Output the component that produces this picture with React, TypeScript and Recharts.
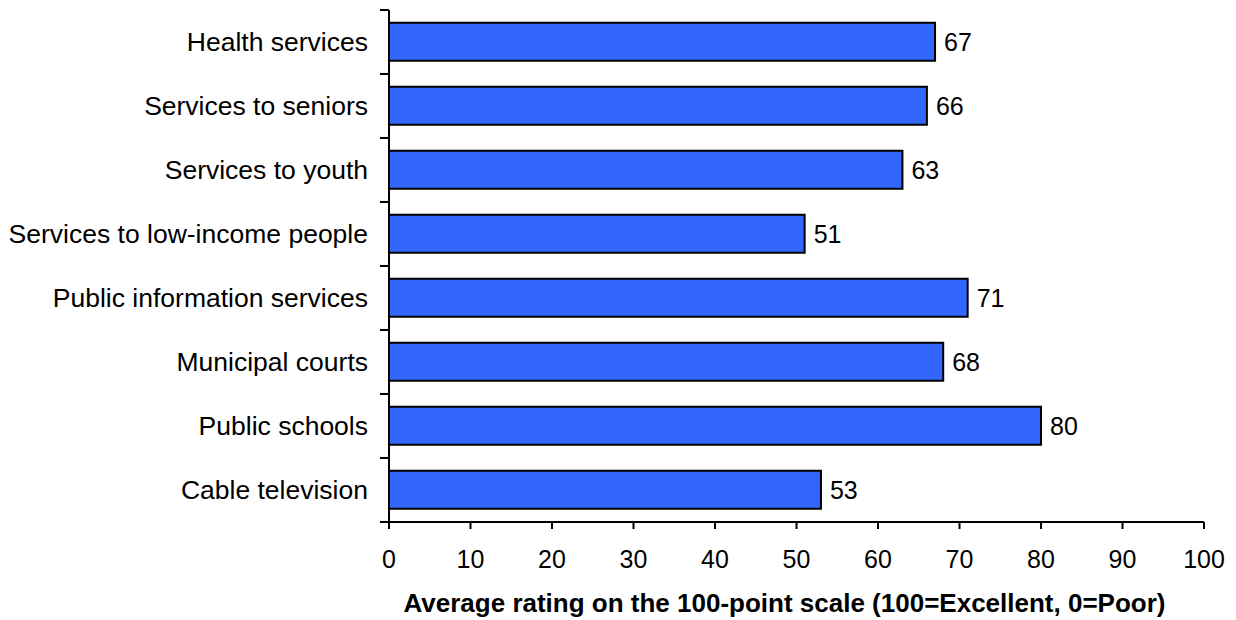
import React from "react";
import { BarChart, Bar, XAxis, YAxis, LabelList, Label } from "recharts";

const services = [
  "Health services",
  "Services to seniors",
  "Services to youth",
  "Services to low-income people",
  "Public information services",
  "Municipal courts",
  "Public schools",
  "Cable television",
];
const ratings = [67, 66, 63, 51, 71, 68, 80, 53];
const xTicks = [0, 10, 20, 30, 40, 50, 60, 70, 80, 90, 100];

const W = 1236;
const H = 620;
const TOP = 10;
const X_AXIS_H = 98;
const BAND = (H - TOP - X_AXIS_H) / services.length;

const data = services.map((name, i) => ({ name, rating: ratings[i] }));

function CategoryTick(props: any) {
  const { x, y, payload, index } = props;
  const half = BAND / 2;
  return (
    <g>
      <text
        x={x - 21}
        y={y}
        dy="0.35em"
        textAnchor="end"
        fontSize={26.5}
        fill="#000"
      >
        {payload.value}
      </text>
      <line x1={x - 9} x2={x} y1={y - half} y2={y - half} stroke="#000" strokeWidth={2} />
      {index === services.length - 1 && (
        <line x1={x - 9} x2={x} y1={y + half} y2={y + half} stroke="#000" strokeWidth={2} />
      )}
    </g>
  );
}

export default function App() {
  return (
    <div style={{ position: "absolute", left: 0, top: 0, width: W, height: H, background: "#fff" }}>
      <BarChart
        width={W}
        height={H}
        data={data}
        layout="vertical"
        margin={{ top: TOP, right: 32, bottom: 0, left: 0 }}
        barCategoryGap="20%"
        style={{ fontFamily: "'Liberation Sans', Arial, sans-serif" }}
      >
        <XAxis
          type="number"
          domain={[0, 100]}
          ticks={xTicks}
          height={X_AXIS_H}
          tickSize={7}
          tickMargin={21}
          axisLine={{ stroke: "#000", strokeWidth: 2 }}
          tickLine={{ stroke: "#000", strokeWidth: 2 }}
          tick={{ fontSize: 25, fill: "#000" }}
          interval={0}
        >
          <Label
            value="Average rating on the 100-point scale (100=Excellent, 0=Poor)"
            position="insideBottom"
            offset={8}
            dx={-12}
            fontSize={26}
            fontWeight="bold"
            fill="#000"
          />
        </XAxis>
        <YAxis
          type="category"
          dataKey="name"
          width={389}
          tickSize={0}
          tickMargin={0}
          tickLine={false}
          axisLine={{ stroke: "#000", strokeWidth: 2 }}
          tick={<CategoryTick />}
          interval={0}
        />
        <Bar
          dataKey="rating"
          fill="#3366FF"
          stroke="#000"
          strokeWidth={2}
          isAnimationActive={false}
        >
          <LabelList dataKey="rating" position="right" offset={9} fontSize={25} fill="#000" />
        </Bar>
      </BarChart>
    </div>
  );
}
